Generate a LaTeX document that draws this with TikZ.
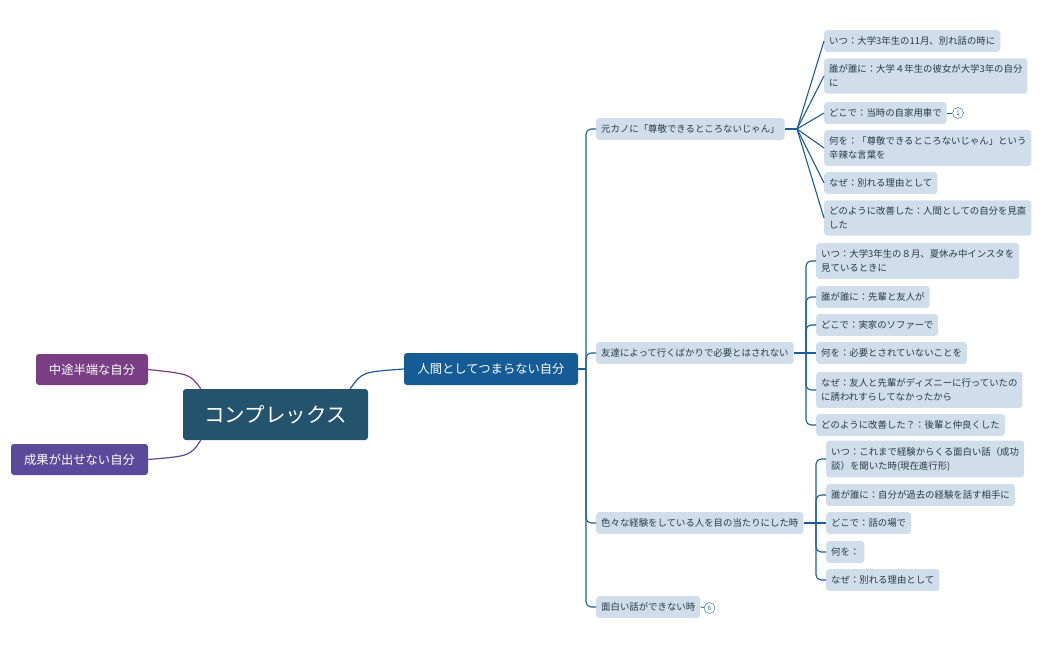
\documentclass[tikz,border=0pt]{standalone}
\usepackage{fontspec}
\setmainfont{Noto Sans CJK JP}
\definecolor{sub}{HTML}{CFDEEA}
\definecolor{txt}{HTML}{2B3A4A}
\definecolor{ln}{HTML}{1A5E99}
\definecolor{cen}{HTML}{24536E}
\definecolor{mainb}{HTML}{155C96}
\definecolor{pur1}{HTML}{7A3E84}
\definecolor{pur2}{HTML}{5B4A9A}
\begin{document}
\begin{tikzpicture}[x=1pt,y=-1pt,
 leaf/.style={fill=sub,text=txt,rounded corners=3pt,anchor=west,align=left,font=\fontsize{9.4}{14}\selectfont,inner xsep=5pt,inner ysep=6.5pt},
 big/.style={rounded corners=3pt,text=white,font=\fontsize{12.3}{14}\selectfont,inner xsep=4pt,inner ysep=4pt},
 con/.style={draw=ln,line width=1.1pt,rounded corners=5pt},
 badge/.style={circle,draw=ln,fill=white,text=ln,inner sep=0.5pt,minimum size=11pt,font=\fontsize{6}{6}\selectfont}]
\useasboundingbox (0,0) rectangle (1048,650);
% center
\node[rounded corners=3pt,fill=cen,text=white,font=\fontsize{20.5}{24}\selectfont,minimum width=185pt,minimum height=51pt] (c) at (275.5,414.5) {コンプレックス};
\node[big,fill=mainb,minimum width=174pt,minimum height=32pt] (m) at (491,369) {人間としてつまらない自分};
\node[big,fill=pur1,minimum width=112pt,minimum height=31pt] (p1) at (92,369.5) {中途半端な自分};
\node[big,fill=pur2,minimum width=137pt,minimum height=31pt] (p2) at (79.5,459.5) {成果が出せない自分};
\draw[pur1,line width=1.2pt] (c.north west)++(18,0) coordinate (c1) .. controls (190,374) .. (p1.east);
\draw[pur2,line width=1.2pt] (c.south west)++(18,0) coordinate (c2) .. controls (190,456) .. (p2.east);
\draw[ln,line width=1.2pt] (c.north east)++(-18,0) coordinate (c3) .. controls (362,372) .. (m.west);
% level 2
\node[leaf] (a) at (596,129) {元カノに「尊敬できるところないじゃん」};
\node[leaf] (b) at (596,353) {友達によって行くばかりで必要とはされない};
\node[leaf] (d) at (596,523) {色々な経験をしている人を目の当たりにした時};
\node[leaf] (e) at (596,607) {面白い話ができない時};
\coordinate (t) at (586,369);
\draw[con] (m.east) -- (t);
\draw[con] (a.west) -| (t) |- (e.west);
\draw[con] (t) |- (b.west);
\draw[con] (t) |- (d.west);
\node[badge] (e1) at (709.5,608) {6};
\draw[ln,line width=0.8pt] (e.east) -- (e1);
% group 1
\node[leaf] (a1) at (824,41) {いつ：大学3年生の11月、別れ話の時に};
\node[leaf] (a2) at (824,76) {誰が誰に：大学４年生の彼女が大学3年の自分\\に};
\node[leaf] (a3) at (824,113) {どこで：当時の自家用車で};
\node[leaf] (a4) at (824,148) {何を：「尊敬できるところないじゃん」という\\辛辣な言葉を};
\node[leaf] (a5) at (824,183) {なぜ：別れる理由として};
\node[leaf] (a6) at (824,218) {どのように改善した：人間としての自分を見直\\した};
\coordinate (ah) at (797,129);
\draw[con] (a.east) -- (ah);
\foreach \n in {a1,a2,a3,a4,a5,a6} \draw[ln,line width=1.1pt] (ah) -- (\n.west);
\node[badge] (a31) at (958,113) {1};
\draw[ln,line width=0.8pt] (a3.east) -- (a31);
% group 2
\node[leaf] (b1) at (816,261) {いつ：大学3年生の８月、夏休み中インスタを\\見ているときに};
\node[leaf] (b2) at (816,297) {誰が誰に：先輩と友人が};
\node[leaf] (b3) at (816,325) {どこで：実家のソファーで};
\node[leaf] (b4) at (816,353) {何を：必要とされていないことを};
\node[leaf] (b5) at (816,390) {なぜ：友人と先輩がディズニーに行っていたの\\に誘われすらしてなかったから};
\node[leaf] (b6) at (816,425) {どのように改善した？：後輩と仲良くした};
\coordinate (bh) at (806,353);
\draw[con] (b.east) -- (b4.west);
\foreach \n in {b1,b2,b3,b5,b6} \draw[con] (bh) |- (\n.west);
% group 3
\node[leaf] (d1) at (826,459) {いつ：これまで経験からくる面白い話（成功\\談）を聞いた時(現在進行形)};
\node[leaf] (d2) at (826,495) {誰が誰に：自分が過去の経験を話す相手に};
\node[leaf] (d3) at (826,523) {どこで：話の場で};
\node[leaf] (d4) at (826,552) {何を：};
\node[leaf] (d5) at (826,580) {なぜ：別れる理由として};
\coordinate (dh) at (816,523);
\draw[con] (d.east) -- (d3.west);
\foreach \n in {d1,d2,d4,d5} \draw[con] (dh) |- (\n.west);
\end{tikzpicture}
\end{document}
